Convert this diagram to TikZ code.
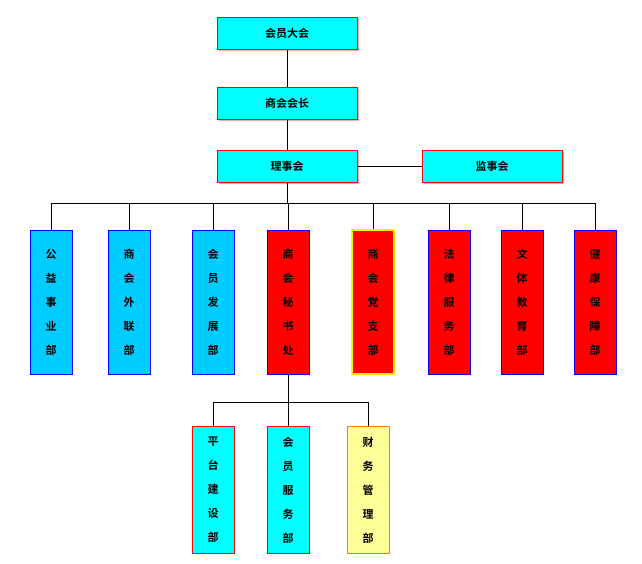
\documentclass[tikz,border=0pt]{standalone}
\usepackage{fontspec}
\setmainfont{Noto Sans CJK SC Bold}
\usetikzlibrary{shadows}
\definecolor{boxcyan}{HTML}{00FFFF}
\definecolor{boxblue}{HTML}{00CCFF}
\definecolor{boxyellow}{HTML}{FFFF99}
\tikzset{
  topbox/.style={draw=red,line width=1pt,fill=boxcyan,minimum width=140pt,minimum height=32pt,
    font=\fontsize{11}{12}\selectfont,drop shadow={shadow xshift=2pt,shadow yshift=-2pt,fill=red!35,opacity=1}},
  deptbox/.style={draw=blue,line width=0.8pt,minimum width=42pt,minimum height=144pt,align=center,
    inner sep=0pt,font=\fontsize{11}{24}\selectfont},
  subbox/.style={deptbox,draw=red,minimum height=127pt},
}
\begin{document}
\begin{tikzpicture}[x=1pt,y=-1pt]
  \useasboundingbox (0,0) rectangle (642,563);
  \fill[white] (0,0) rectangle (642,563);
  % top levels
  \node[topbox] (hy) at (287,33) {会员大会};
  \node[topbox] (hz) at (287,103) {商会会长};
  \node[topbox] (lsh) at (287,166) {理事会};
  \node[topbox] (jsh) at (492,166) {监事会};
  % departments
  \node[deptbox,fill=boxblue] (d1) at (51,302) {公\\益\\事\\业\\部};
  \node[deptbox,fill=boxblue] (d2) at (129,302) {商\\会\\外\\联\\部};
  \node[deptbox,fill=boxblue] (d3) at (213,302) {会\\员\\发\\展\\部};
  \node[deptbox,fill=red] (d4) at (288,302) {商\\会\\秘\\书\\处};
  \node[deptbox,fill=red,draw=yellow,line width=2pt] (d5) at (373,302) {商\\会\\党\\支\\部};
  \node[deptbox,fill=red] (d6) at (449,302) {法\\律\\服\\务\\部};
  \node[deptbox,fill=red] (d7) at (522,302) {文\\体\\教\\育\\部};
  \node[deptbox,fill=red] (d8) at (595,302) {健\\康\\保\\障\\部};
  % secretariat units
  \node[subbox,fill=boxcyan] (s1) at (213,490) {平\\台\\建\\设\\部};
  \node[subbox,fill=boxcyan] (s2) at (288,490) {会\\员\\服\\务\\部};
  \node[subbox,fill=boxyellow,draw=orange] (s3) at (368,490) {财\\务\\管\\理\\部};
  \coordinate (bus) at (0,203);
  \coordinate (subbus) at (0,402);
  % connectors
  \draw (hy) -- (hz);
  \draw (hz) -- (lsh);
  \draw (lsh) -- (jsh);
  \draw (lsh.south) -- (lsh.south |- bus);
  \draw (d1.north |- bus) -- (d8.north |- bus);
  \foreach \d in {d1,d2,d3,d4,d5,d6,d7,d8}
    \draw (\d.north) -- (\d.north |- bus);
  \draw (d4.south) -- (d4.south |- subbus);
  \draw (s1.north |- subbus) -- (s3.north |- subbus);
  \foreach \s in {s1,s2,s3}
    \draw (\s.north) -- (\s.north |- subbus);
\end{tikzpicture}
\end{document}
